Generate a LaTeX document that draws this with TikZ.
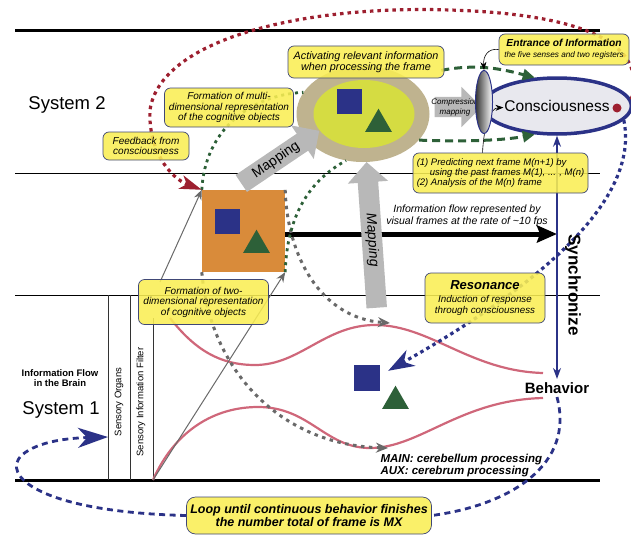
\documentclass[tikz,border=0pt]{standalone}
\usepackage{fontspec}
\setmainfont{Liberation Sans}
\usetikzlibrary{arrows.meta,shapes.geometric,shapes.arrows,positioning,calc}
\pgfdeclarelayer{front}
\pgfsetlayers{main,front}

\definecolor{noteY}{RGB}{249,238,84}
\definecolor{noteB}{RGB}{64,72,118}
\definecolor{navyA}{RGB}{43,50,135}
\definecolor{greenA}{RGB}{45,96,56}
\definecolor{orangeA}{RGB}{217,139,58}
\definecolor{tanA}{RGB}{191,179,143}
\definecolor{limeA}{RGB}{213,220,66}
\definecolor{pinkA}{RGB}{207,103,122}
\definecolor{redA}{RGB}{157,31,47}
\definecolor{grayA}{RGB}{184,184,184}
\definecolor{grayB}{RGB}{105,105,105}
\definecolor{consA}{RGB}{232,232,238}

\newcommand{\fsz}[1]{\fontsize{#1}{#1}\selectfont}

\tikzset{
	noteA/.style={
		fill=noteY, fill opacity=0.88, text opacity=1, draw=noteB, line width=0.7pt,
		rounded corners=6pt, align=center, inner sep=0pt
	},
	sqA/.style={fill=navyA, minimum size=25pt, inner sep=0pt},
	triA/.style={fill=greenA, regular polygon, regular polygon sides=3, minimum size=31pt, inner sep=0pt},
	fatA/.style={single arrow, fill=grayA, inner sep=3.5pt, single arrow head extend=10pt,
		single arrow tip angle=90, font={\fsz{14}}},
	dotG/.style={greenA, line width=2.8pt, dash pattern=on 3pt off 4pt},
	dashG/.style={greenA, line width=3pt, dash pattern=on 8pt off 5pt},
	dotK/.style={grayB, line width=3pt, dash pattern=on 3.5pt off 4.5pt},
	dotR/.style={redA, line width=3.2pt, dash pattern=on 3.5pt off 4pt},
	dotN/.style={navyA, line width=3.2pt, dash pattern=on 3.5pt off 3.5pt},
	dashN/.style={navyA, line width=2.8pt, dash pattern=on 6pt off 4.5pt},
	>=stealth,
}

\begin{document}
\begin{tikzpicture}[x=1pt, y=-1pt, line join=round]
\useasboundingbox (0,0) rectangle (631,535);

% notes, kept in front
\begin{pgfonlayer}{front}
\node[noteA, minimum width=156pt, minimum height=32pt, font={\itshape\fontsize{10.8}{11.5}\selectfont}] (activ) at (366,62) {Activating relevant information\\when processing the frame};
\node[noteA, minimum width=130pt, minimum height=31pt, font={\itshape\fontsize{8.2}{11}\selectfont}] (entrance) at (564,49.5) {{\bfseries\fsz{10.2}Entrance of Information}\\the five senses and two registers};
\node[noteA, minimum width=129pt, minimum height=39pt, font={\itshape\fontsize{10}{10.5}\selectfont}] (multi) at (229,107.5) {Formation of multi-\\dimensional representation\\of the cognitive objects};
\node[noteA, minimum width=86pt, minimum height=28pt, font={\itshape\fontsize{10}{10.5}\selectfont}] (feedback) at (146,146) {Feedback from\\consciousness};
\node[noteA, minimum width=175pt, minimum height=40pt, align=left, font={\itshape\fontsize{9.5}{10}\selectfont}] (predict) at (500.5,173) {(1) Predicting next frame M(n+1) by\\\hspace*{13pt}using the past frames M(1), ... , M(n)\\(2) Analysis of the M(n) frame};
\node[noteA, minimum width=130pt, minimum height=45pt, font={\itshape\fontsize{10}{10.5}\selectfont}] (twodim) at (203.5,302) {Formation of two-\\dimensional representation\\of cognitive objects};
\node[noteA, minimum width=120pt, minimum height=50pt, font={\itshape\fontsize{9.8}{10.5}\selectfont}] (reson) at (485,298) {{\bfseries\fsz{13}Resonance}\\[3pt]Induction of response\\through consciousness};
\node[noteA, minimum width=245pt, minimum height=37pt, rounded corners=9pt, font={\bfseries\itshape\fontsize{12.5}{12.5}\selectfont}] (loop) at (309,515.5) {Loop until continuous behavior finishes\\the number total of frame is MX};
\end{pgfonlayer}

% frame
\draw[line width=3pt] (15,31) -- (600,31);
\draw[line width=1pt] (15,173) -- (600,173);
\draw[line width=1pt] (15,295) -- (600,295);
\draw[line width=3pt] (15,480) -- (600,480);
\foreach \xv/\ya in {108/295, 130/295, 153/318}
	\draw[line width=1pt, black!80] (\xv,\ya) -- (\xv,480);
\coordinate (foot) at (153,480);
\coordinate (organsin) at (108,437);
\coordinate (grayst) at (160,282);
\coordinate (flowend) at (557,234);

% pink
\draw[pinkA, line width=2.2pt] (170,318) .. controls (195,350) and (220,365) .. (255,365) .. controls (300,365) and (325,325) .. (375,325) .. controls (430,325) and (470,371) .. (543,373);
\draw[pinkA, line width=2.2pt] (foot) .. controls (175,430) and (215,407) .. (258,407) .. controls (310,407) and (325,448) .. (370,448) .. controls (420,448) and (460,400) .. (543,398);
\coordinate (lowmin) at (388,448);
\coordinate (upmax) at (390,323);

% cognitive objects
\node[fill=orangeA, minimum width=83pt, minimum height=82pt] (orange) at (243.5,231) {};
\node[sqA] (osq) at (227.5,221.5) {};
\node[triA] (otri) at (256.5,245.2) {};
\node[ellipse, fill=tanA, minimum width=133pt, minimum height=96pt] (outer) at (363,114) {};
\node[ellipse, fill=limeA, minimum width=101pt, minimum height=68pt] (inner) at (364,114) {};
\node[sqA] (esq) at (349.5,101.5) {};
\node[triA] (etri) at (378.5,124.2) {};
\node[sqA, minimum size=26pt] (bsq) at (367,378) {};
\node[triA] (btri) at (395.5,401.2) {};

\node[ellipse, draw=navyA, line width=3.5pt, fill=consA, minimum width=144pt, minimum height=56pt, inner sep=0pt, font=\fsz{15.5}] (consc) at (557,106) {Consciousness};
\node[font=\bfseries\fsz{15}] (behav) at (557,388) {Behavior};

% flows
\draw[line width=5pt, -{Stealth[length=20pt,width=17pt,inset=3pt]}] (orange.east |- flowend) -- (flowend);
\draw[navyA, line width=1.2pt, {Stealth[length=11pt,width=8pt]}-{Stealth[length=11pt,width=8pt]}] (consc.south -| behav) -- (behav.north);
\draw[grayB, line width=1pt, -{Stealth[length=10pt,width=8pt]}] (foot) -- (orange.south east);
\draw[grayB, line width=1pt, -{Stealth[length=10pt,width=8pt]}] (grayst) -- (orange.north west);
\draw[dotK, -{Stealth[length=12pt,width=10pt]}] (orange.south west) .. controls (210,370) and (280,445) .. (lowmin);
\draw[dotK, -{Stealth[length=12pt,width=10pt]}] (orange.north east) .. controls (287,255) and (320,318) .. (upmax);
\draw[dotG] (orange.north west) .. controls (205,130) and (250,95) .. (outer.160);
\draw[dotG] (orange.south east) .. controls (287,215) and (310,180) .. (outer.250);
\draw[dashG, -{Triangle[length=12pt,width=11pt]}] ($(activ.south east)+(-3,-8)$) .. controls (480,63) and (505,70) .. (consc.128);
\draw[dashG, -{Triangle[length=12pt,width=11pt]}] (outer.-25) .. controls (470,142) and (505,140) .. (consc.232);
\draw[dotR, -{Stealth[length=22pt,width=14pt,inset=6pt]}] (consc.5) .. controls (645,55) and (610,15) .. (450,10) .. controls (300,5) and (160,40) .. (150,110) .. controls (148,150) and (170,178) .. (orange.north west);
\draw[dotN, -{Stealth[length=26pt,width=18pt,inset=8pt]}] (consc.-12) .. controls (640,200) and (540,285) .. ($(bsq.north east)+(8,6)$);
\draw[dashN] (behav.south) .. controls (575,465) and (510,505) .. (loop.east);
\draw[dashN, -{Stealth[length=30pt,width=20pt,inset=9pt]}] (loop.west) .. controls (40,512) and (0,475) .. (22,455) .. controls (38,441) and (70,438) .. (organsin);

% mapping
\node[fatA, rotate=34, minimum height=94pt] (map1) at (276,160) {Mapping};
\node[fatA, rotate=-86, shape border rotate=180, minimum height=146pt, font={\itshape\fsz{14}}] (map2) at (372,240) {Mapping};
\node[single arrow, fill=grayA, inner sep=10pt, single arrow head extend=10pt, minimum height=47pt] (cmpA) at (453,107) {};
\node[font={\itshape\fontsize{8}{10}\selectfont}, align=center] (cmptxt) at (455,107) {Compression\\mapping};

\draw[line width=0.6pt, -{Stealth[length=8pt,width=6pt]}] ($(predict.north)+(-18,0)$) .. controls (484,125) and (490,108) .. ($(consc.text)+(-1,-4)$);
\node[ellipse, draw=navyA, line width=1pt, left color=black!80, right color=white, minimum width=17pt, minimum height=63pt] (lens) at (484,102) {};
\draw[line width=0.6pt, -{Stealth[length=8pt,width=6pt]}] (entrance.west) .. controls (488,48) and (483,56) .. (lens.north);
\node[circle, fill=redA, minimum size=9pt, inner sep=0pt] (reddot) at (617,108) {};

% labels
\node[font=\fsz{18.5}] (sys2) at (67,105) {System 2};
\node[font=\fsz{18.5}] (sys1) at (61,410) {System 1};
\node[font={\bfseries\fontsize{9.5}{10.5}\selectfont}, align=center] (flow) at (60,378) {Information Flow\\in the Brain};
\node[rotate=90, font=\fsz{9.5}] (organs) at (119,402) {Sensory Organs};
\node[rotate=90, font=\fsz{9.5}] (filter) at (141,402) {Sensory Information Filter};
\node[rotate=-90, font=\bfseries\fsz{17}] (sync) at (573,285) {Synchronize};
\node[font={\itshape\fontsize{10.5}{11.5}\selectfont}, align=center] (flowtxt) at (467,216) {Information flow represented by\\visual frames at the rate of \textasciitilde10 fps};
\node[font={\bfseries\itshape\fontsize{11.5}{12}\selectfont}, align=left, anchor=west] (mainaux) at (377,466) {MAIN: cerebellum processing\\AUX: cerebrum processing};
\end{tikzpicture}
\end{document}
